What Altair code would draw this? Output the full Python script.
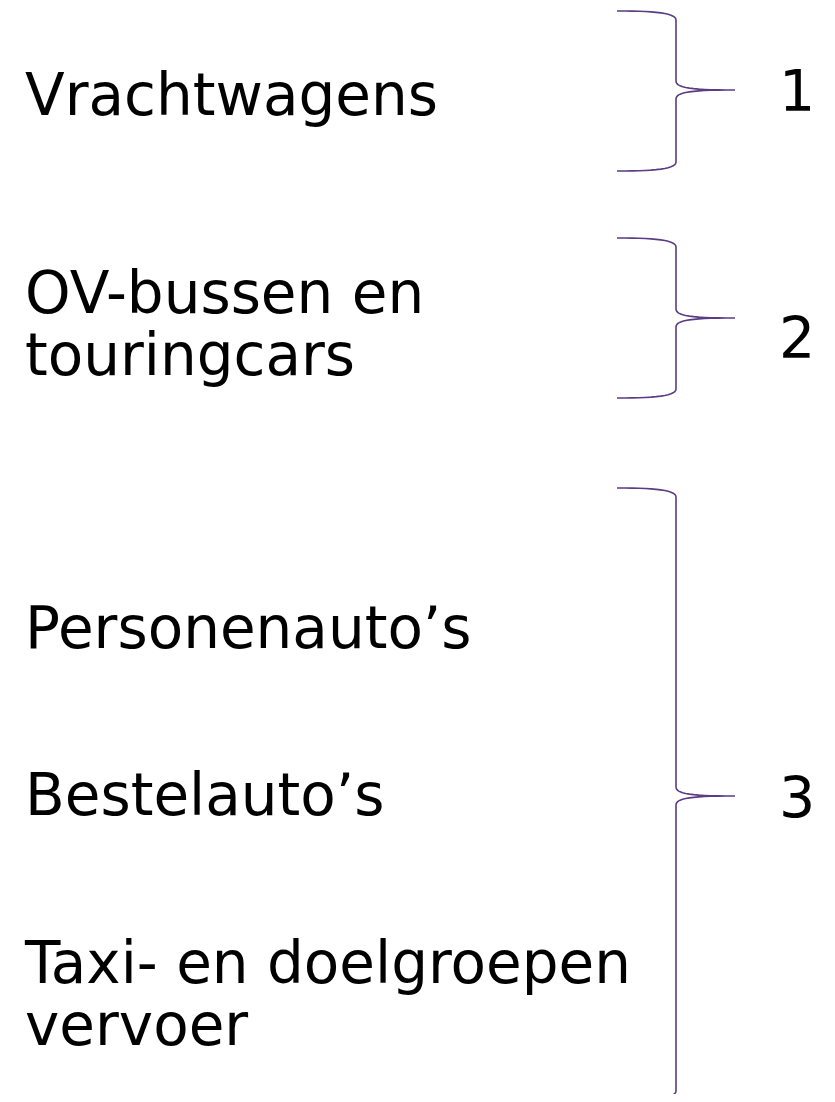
import altair as alt
import pandas as pd

# ---- content -------------------------------------------------------------
labels = ["Vrachtwagens", "OV-bussen en", "touringcars",
          "Personenauto\u2019s", "Bestelauto\u2019s",
          "Taxi- en doelgroepen", "vervoer"]
label_group = [1, 2, 2, 3, 3, 3, 3]
label_baseline = [115, 313, 375, 648, 815, 983, 1045]   # pixel baselines

group_names = ["1", "2", "3"]
brace_top = [11, 238, 488]
brace_bottom = [171, 398, 1100]
brace_tip = [90, 318, 796]
number_baseline = [111, 358, 818]

# ---- geometry helpers for the braces --------------------------------------
X_END, X_VERT, X_TIP, D = 617, 676, 735, 9


def cubic(p0, p1, p2, p3, n=14):
    pts = []
    for i in range(n + 1):
        t = i / n
        a = (1 - t) ** 3
        b = 3 * (1 - t) ** 2 * t
        c = 3 * (1 - t) * t ** 2
        d = t ** 3
        pts.append((a * p0[0] + b * p1[0] + c * p2[0] + d * p3[0],
                    a * p0[1] + b * p1[1] + c * p2[1] + d * p3[1]))
    return pts


rows = []
for g, t, b, m in zip(group_names, brace_top, brace_bottom, brace_tip):
    pts = []
    pts += cubic((X_END, t), (X_END + 38, t), (X_VERT, t + 2), (X_VERT, t + D))
    pts += cubic((X_VERT, m - D), (X_VERT, m - 2), (X_VERT + 16, m), (X_TIP, m))
    pts += cubic((X_TIP, m), (X_VERT + 16, m), (X_VERT, m + 2), (X_VERT, m + D))
    pts += cubic((X_VERT, b - D), (X_VERT, b - 2), (X_END + 38, b), (X_END, b))
    for i, (x, y) in enumerate(pts):
        rows.append({"brace": g, "i": i, "x": x, "y": y})
brace_df = pd.DataFrame(rows)

label_df = pd.DataFrame({"label": labels, "group": label_group,
                         "y": label_baseline, "x": 25})
num_df = pd.DataFrame({"label": group_names, "y": number_baseline, "x": 797})

# ---- scales: data units = page pixels -------------------------------------
xs = alt.Scale(domain=[8, 827], nice=False, zero=False)
ys = alt.Scale(domain=[8, 1094], nice=False, zero=False, reverse=True)

braces = alt.Chart(brace_df).mark_line(
    color="#5b3c84", strokeWidth=1.6, interpolate="linear"
).encode(
    x=alt.X("x:Q", scale=xs, axis=None),
    y=alt.Y("y:Q", scale=ys, axis=None),
    detail="brace:N",
    order="i:Q",
)

texts = alt.Chart(label_df).mark_text(
    align="left", baseline="alphabetic", font="DejaVu Sans",
    fontSize=58, color="black"
).encode(
    x=alt.X("x:Q", scale=xs, axis=None),
    y=alt.Y("y:Q", scale=ys, axis=None),
    text="label:N",
)

nums = alt.Chart(num_df).mark_text(
    align="center", baseline="alphabetic", font="DejaVu Sans",
    fontSize=57, color="black"
).encode(
    x=alt.X("x:Q", scale=xs, axis=None),
    y=alt.Y("y:Q", scale=ys, axis=None),
    text="label:N",
)

chart = alt.layer(braces, texts, nums).properties(
    width=819, height=1086, padding=0,
    autosize=alt.AutoSizeParams(type="none"),
    background="white",
).configure_view(stroke=None)

chart.save("out.html", embed_options={"renderer": "svg", "actions": False})
